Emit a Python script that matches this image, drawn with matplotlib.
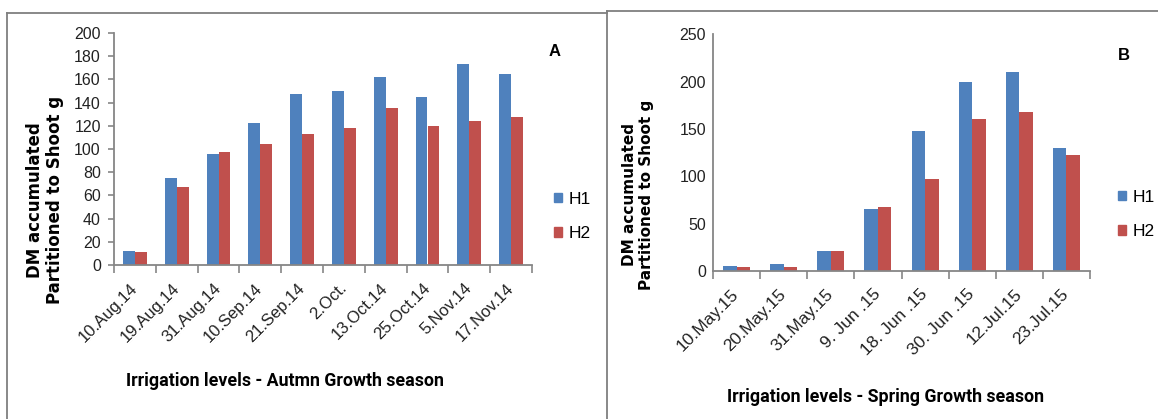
import matplotlib
matplotlib.use("Agg")
import matplotlib.pyplot as plt
from matplotlib.lines import Line2D
from matplotlib.patches import Patch
import numpy as np

# ---- data ----
cats_a = ["10.Aug.14", "19.Aug.14", "31.Aug.14", "10.Sep.14", "21.Sep.14",
          "2.Oct.", "13.Oct.14", "25.Oct.14", "5.Nov.14", "17.Nov.14"]
h1_a = [12.5, 75, 96, 122.5, 147.5, 150, 162, 145, 173, 165]
h2_a = [11.5, 67, 97, 104, 112.5, 118.5, 135, 119.5, 124.5, 128]
yticks_a = [0, 20, 40, 60, 80, 100, 120, 140, 160, 180, 200]

cats_b = ["10.May.15", "20.May.15", "31.May.15", "9. Jun .15", "18. Jun .15",
          "30. Jun .15", "12.Jul.15", "23.Jul.15"]
h1_b = [5.5, 7.5, 21, 65.5, 147.5, 200, 210.5, 129.5]
h2_b = [4.5, 4.5, 21, 67.5, 97, 161, 167.5, 123]
yticks_b = [0, 50, 100, 150, 200, 250]

series_names = ["H1", "H2"]
BLUE = "#4F81BD"
RED = "#C0504D"
AXC = "#868686"

W, H = 1158, 419
fig = plt.figure(figsize=(W / 100, H / 100), dpi=100)


def px_axes(l, r, t, b):
    return fig.add_axes([l / W, (H - b) / H, (r - l) / W, (b - t) / H])


def draw_panel(ax, cats, s1, s2, yticks, ytick_marks, xlabel, letter_xy, letter,
               ylab_xy, ylab_fs, xlab_xy, leg_xy, xfs):
    n = len(cats)
    x = np.arange(n)
    bw = 1 / 3.5
    ax.bar(x - bw / 2, s1, bw, color=BLUE, label=series_names[0])
    ax.bar(x + bw / 2, s2, bw, color=RED, label=series_names[1])
    ax.set_xlim(-0.5, n - 0.5)
    ax.set_ylim(yticks[0], yticks[-1])
    ax.set_yticks(yticks)
    ax.set_yticklabels([str(v) for v in yticks], fontsize=11.5,
                       family="Liberation Sans", color="#222222")
    for s in ["top", "right"]:
        ax.spines[s].set_visible(False)
    for s in ["left", "bottom"]:
        ax.spines[s].set_color(AXC)
        ax.spines[s].set_linewidth(1.3)
    ax.tick_params(axis="y", length=4.5 if ytick_marks else 0, width=1.2,
                   color=AXC, pad=5)
    ax.set_xticks(x)
    ax.set_xticklabels(cats, rotation=45, ha="right", va="center",
                       rotation_mode="anchor", fontsize=xfs,
                       family="Liberation Sans", color="#222222")
    ax.tick_params(axis="x", which="major", length=0, pad=15)
    bounds = list(np.arange(n + 1) - 0.5)
    ax.set_xticks(bounds, minor=True)
    ax.tick_params(axis="x", which="minor", length=5.5, width=1.2, color=AXC)

    fig.text(ylab_xy[0] / W, 1 - ylab_xy[1] / H,
             "DM accumulated\nPartitioned to Shoot g",
             rotation=90, ha="center", va="center", fontsize=ylab_fs,
             fontweight="bold", family="DejaVu Sans", linespacing=1.1)
    fig.text(xlab_xy[0] / W, 1 - xlab_xy[1] / H, xlabel, ha="center", va="center",
             fontsize=12.8, fontweight="bold", family="Roboto")
    fig.text(letter_xy[0] / W, 1 - letter_xy[1] / H, letter, ha="center",
             va="center", fontsize=12, fontweight="bold", family="Liberation Sans")
    handles = [Patch(color=BLUE), Patch(color=RED)]
    fig.legend(handles, series_names, loc="upper left",
               bbox_to_anchor=(leg_xy[0] / W, 1 - leg_xy[1] / H),
               frameon=False, handlelength=0.45, handleheight=0.45,
               handletextpad=0.4, labelspacing=1.1, borderpad=0,
               borderaxespad=0,
               prop={"family": "Liberation Sans", "size": 12.5})


ax_a = px_axes(114, 532, 33, 265)
draw_panel(ax_a, cats_a, h1_a, h2_a, yticks_a, True,
           "Irrigation levels - Autmn Growth season", (555, 52), "A",
           (45, 200), 12, (285, 381), (554, 192), 12)

ax_b = px_axes(713, 1090, 34.3, 271)
draw_panel(ax_b, cats_b, h1_b, h2_b, yticks_b, False,
           "Irrigation levels - Spring Growth season", (1124, 56), "B",
           (638, 195), 11, (885, 397), (1118, 190), 12.5)

# panel frames
fc = "#7f7f7f"
for (x0, y0, x1, y1) in [(7, 13, 607, 13), (7, 13, 7, 419),
                         (607, 11, 607, 419), (607, 11, 1158, 11)]:
    fig.add_artist(Line2D([x0 / W, x1 / W], [1 - y0 / H, 1 - y1 / H],
                          transform=fig.transFigure, color=fc, lw=1.3))

fig.savefig("out.png", dpi=100)
